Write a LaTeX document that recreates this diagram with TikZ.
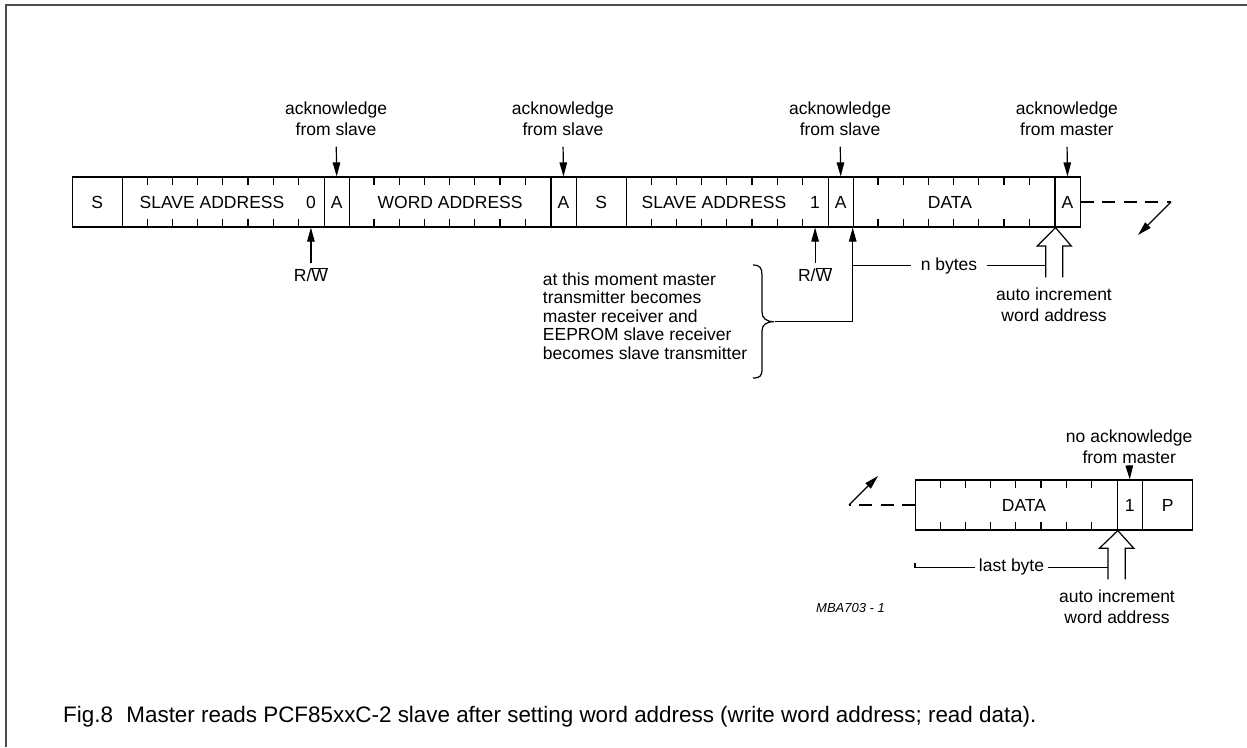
\documentclass[tikz,border=0pt]{standalone}
\usepackage{fontspec}
\setmainfont{Liberation Sans}
\usetikzlibrary{arrows.meta}
\newcommand\diagfont{\fontsize{17.5}{21}\selectfont}
\begin{document}
\begin{tikzpicture}[x=1pt,y=-1pt,
  every node/.style={inner sep=0pt, font=\diagfont},
  cell/.style={draw, line width=1.2pt, minimum height=50pt, anchor=west},
  lbl/.style={align=center, anchor=north},
  arr/.style={line width=1.2pt, -{Triangle[length=14pt,width=7.5pt]}},
  ln/.style={line width=1.2pt},
  dsh/.style={line width=1.2pt, dash pattern=on 13pt off 8.5pt},
  hollow/.style={line width=1.2pt, line join=miter},
  frame/.style={line width=2pt, draw=black!70}
]
\useasboundingbox (0,0) rectangle (1247,747);
\draw[frame] (6,747) -- (6,5) -- (1247,5);

% ---------- top row ----------
\node[cell, minimum width=50.4pt]  (s1)    at (71.5,202)  {S};
\node[cell, minimum width=201.6pt] (sa1)   at (121.9,202) {};
\node[cell, minimum width=25.2pt]  (a1)    at (323.5,202) {A};
\node[cell, minimum width=201.6pt] (wa)    at (348.7,202) {WORD ADDRESS};
\node[cell, minimum width=25.2pt]  (a2)    at (550.3,202) {A};
\node[cell, minimum width=50.4pt]  (s2)    at (575.5,202) {S};
\node[cell, minimum width=201.6pt] (sa2)   at (625.9,202) {};
\node[cell, minimum width=25.2pt]  (a3)    at (827.5,202) {A};
\node[cell, minimum width=201.6pt] (data1) at (852.7,202) {};
\node[cell, minimum width=25.2pt]  (a4)    at (1054.3,202) {A};
\foreach \s in {121.9,348.7,625.9,852.7}{
  \foreach \k in {1,...,7}{
    \draw[ln] ({\s+\k*25.2},177) -- ++(0,8);
    \draw[ln] ({\s+\k*25.2},227) -- ++(0,-8);
  }
}
\node (t1)   at (212,202)   {SLAVE ADDRESS};
\node (zero) at (310.9,202) {0};
\node (t2)   at (714,202)   {SLAVE ADDRESS};
\node (one)  at (815.1,202) {1};
\node (t3)   at (950,202)   {DATA};

% acknowledge labels
\node[lbl] (ack1) at (336.1,101.5) {acknowledge\\from slave};
\node[lbl] (ack2) at (562.9,101.5) {acknowledge\\from slave};
\node[lbl] (ack3) at (840.1,101.5) {acknowledge\\from slave};
\node[lbl] (ack4) at (1066.9,101.5) {acknowledge\\from master};
\draw[arr, shorten <=11pt] (ack1.south) -- (a1.north);
\draw[arr, shorten <=11pt] (ack2.south) -- (a2.north);
\draw[arr, shorten <=11pt] (ack3.south) -- (a3.north);
\draw[arr, shorten <=11pt] (ack4.south) -- (a4.north);

% R/W
\node (rw1) at (310.9,275) {R/$\overline{\hbox{W}}$};
\node (rw2) at (815.1,275) {R/$\overline{\hbox{W}}$};
\draw[arr, shorten <=5pt] (rw1.north) -- (zero |- sa1.south);
\draw[arr, shorten <=5pt] (rw2.north) -- (one |- sa2.south);

% brace and text
\node[align=left, anchor=north west, font=\fontsize{17.5}{18.5}\selectfont] (note) at (542.7,272.5)
  {at this moment master\\transmitter becomes\\master receiver and\\EEPROM slave receiver\\becomes slave transmitter};
\draw[ln] (753,265) .. controls (760,265) and (762,268) .. (762,275) -- (762,312)
  .. controls (762,318) and (766,321.7) .. (774,321.7)
  .. controls (766,321.7) and (762,325) .. (762,331) -- (762,369)
  .. controls (762,376) and (760,378) .. (753,378);
\coordinate (btip) at (775,321.7);
\draw[arr] (btip) -| (data1.south west);

% n bytes
\node[inner xsep=9.5pt] (nb) at (949,265.5) {n bytes};
\draw[ln] (data1.south west |- nb.west) -- (nb.west);
\coordinate (sh1) at (1045.8,265.5);
\draw[ln] (nb.east) -- (sh1);
\draw[hollow] (1045.8,277.3) -- (1045.8,246) -- (1037.3,246) -- (data1.south east)
  -- (1071.3,246) -- (1062.8,246) -- (1062.8,277.3);
\node[align=center] (inc1) at (1054,305) {auto increment\\word address};

% continuation top
\coordinate (d1) at (1171,202);
\coordinate (d1t) at (1138,235);
\draw[dsh] (a4.east) -- (d1);
\draw[arr] (d1) -- (d1t);

% ---------- bottom row ----------
\node[cell, minimum width=201.6pt] (data2) at (915,505) {};
\node[cell, minimum width=25.2pt]  (b1)    at (1116.6,505) {1};
\node[cell, minimum width=50.4pt]  (p)     at (1141.8,505) {P};
\foreach \k in {1,...,7}{
  \draw[ln] ({915+\k*25.2},480) -- ++(0,8);
  \draw[ln] ({915+\k*25.2},530) -- ++(0,-8);
}
\node (t4) at (1024,505) {DATA};
\node[lbl] (ack5) at (1129.2,430) {no acknowledge\\from master};
\draw[arr, shorten <=3pt] (ack5.south) -- (b1.north);

\coordinate (d2) at (849,505);
\coordinate (d2t) at (878,476);
\draw[dsh] (data2.west) -- (d2);
\draw[arr] (d2) -- (d2t);

\node[inner xsep=4pt] (lb) at (1011.5,567) {last byte};
\draw[ln] (915,563) -- (915,567.3) -- (lb.west |- 0,567.3);
\draw[ln] (lb.east |- 0,567.3) -- (1107.9,567.3);
\draw[hollow] (1107.9,579.3) -- (1107.9,548.3) -- (1099.4,548.3) -- (data2.south east)
  -- (1133.8,548.3) -- (1125.3,548.3) -- (1125.3,579.3);
\node[align=center] (inc2) at (1117,607) {auto increment\\word address};

\node[font=\fontsize{13}{15}\selectfont\itshape] (id) at (850.5,608.3) {MBA703 - 1};

% caption
\node[anchor=base west, font=\fontsize{22.4}{26}\selectfont] (cap) at (63,722)
  {Fig.8\hspace{0.6em}Master reads PCF85xxC-2 slave after setting word address (write word address; read data).};
\end{tikzpicture}
\end{document}
